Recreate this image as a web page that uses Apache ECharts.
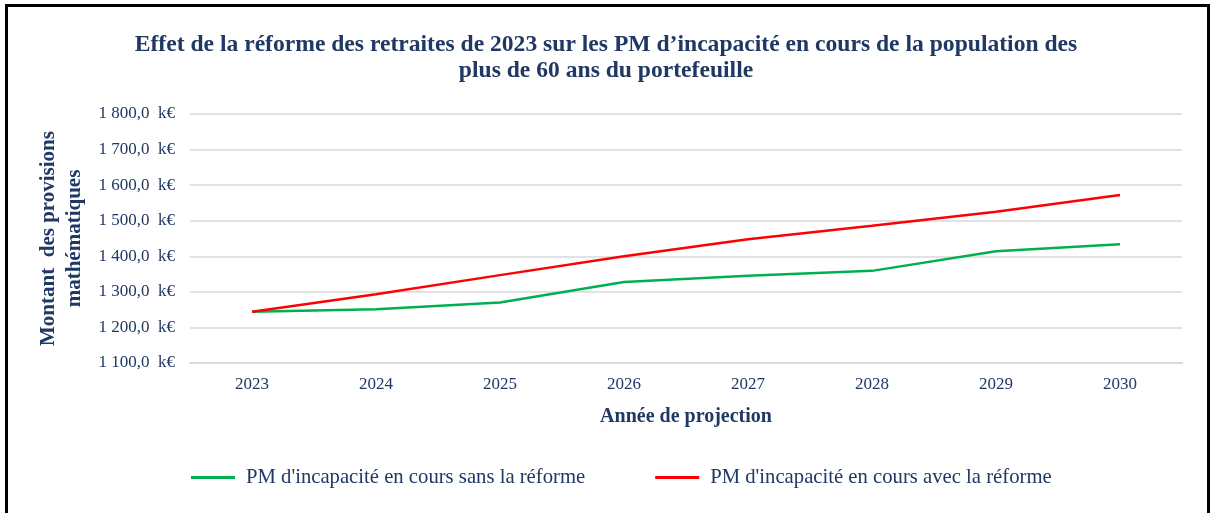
<!DOCTYPE html>
<html>
<head>
<meta charset="utf-8">
<script src="https://cdn.jsdelivr.net/npm/echarts@6/dist/echarts.min.js"></script>
<style>
  html, body { margin: 0; padding: 0; background: #fff; overflow: hidden; }
  #frame {
    position: absolute; left: 5px; top: 4px; width: 1205px; height: 520px;
    border: 3px solid #000; box-sizing: border-box;
  }
  #chart { position: absolute; left: 0; top: 0; width: 1212px; height: 513px; }
</style>
</head>
<body>
<div id="frame"></div>
<div id="chart"></div>
<script>
// années de projection
const years = ['2023', '2024', '2025', '2026', '2027', '2028', '2029', '2030'];
// PM d'incapacité en cours (k€)
const sansReforme = [1244, 1251, 1270, 1328, 1345, 1359, 1414, 1434];
const avecReforme = [1244, 1293, 1347, 1400, 1448, 1486, 1525, 1572];
const yMin = 1100;
const yMax = 1800;
const yStep = 100;

const navy = '#1F3864';
const serif = "'Liberation Serif', 'DejaVu Serif', serif";

function fmtK(v) {
  const s = v.toFixed(1).replace('.', ',');
  const parts = s.split(',');
  const ent = parts[0].replace(/\B(?=(\d{3})+(?!\d))/g, ' ');
  return ent + ',' + parts[1] + '  k€';
}

const chart = echarts.init(document.getElementById('chart'));
chart.setOption({
  backgroundColor: 'transparent',
  title: {
    text: 'Effet de la réforme des retraites de 2023 sur les PM d’incapacité en cours de la population des\nplus de 60 ans du portefeuille',
    left: 'center',
    top: 27,
    textStyle: {
      fontFamily: serif, fontWeight: 'bold', fontSize: 23.6, color: navy, lineHeight: 26
    }
  },
  legend: {
    bottom: 20,
    left: 186,
    itemWidth: 44,
    itemHeight: 3,
    itemGap: 70,
    icon: 'rect',
    textStyle: { fontFamily: serif, fontSize: 20.7, color: navy, padding: [0, 0, 0, 6] },
    data: ["PM d'incapacité en cours sans la réforme", "PM d'incapacité en cours avec la réforme"]
  },
  grid: { left: 190, right: 30, top: 114, bottom: 150, containLabel: false },
  xAxis: {
    type: 'category',
    data: years,
    boundaryGap: true,
    name: 'Année de projection',
    nameLocation: 'middle',
    nameGap: 44,
    nameTextStyle: { fontFamily: serif, fontWeight: 'bold', fontSize: 20, color: navy },
    axisLine: { lineStyle: { color: '#d9d9d9', width: 2 } },
    axisTick: { show: false },
    axisLabel: { fontFamily: serif, fontSize: 17, color: navy, margin: 13 }
  },
  yAxis: {
    type: 'value',
    min: yMin,
    max: yMax,
    interval: yStep,
    name: 'Montant  des provisions\nmathématiques',
    nameLocation: 'middle',
    nameRotate: 90,
    nameGap: 92,
    nameTextStyle: { fontFamily: serif, fontWeight: 'bold', fontSize: 21, color: navy, lineHeight: 26 },
    axisLine: { show: false },
    axisTick: { show: false },
    splitLine: { lineStyle: { color: '#d9d9d9', width: 1.5 } },
    axisLabel: { fontFamily: serif, fontSize: 17, color: navy, margin: 15, formatter: fmtK }
  },
  series: [
    {
      name: "PM d'incapacité en cours sans la réforme",
      type: 'line',
      data: sansReforme,
      symbol: 'none',
      color: '#00B050',
      lineStyle: { width: 2.5, color: '#00B050' }
    },
    {
      name: "PM d'incapacité en cours avec la réforme",
      type: 'line',
      data: avecReforme,
      symbol: 'none',
      color: '#FF0000',
      lineStyle: { width: 2.5, color: '#FF0000' }
    }
  ]
});
</script>
</body>
</html>
